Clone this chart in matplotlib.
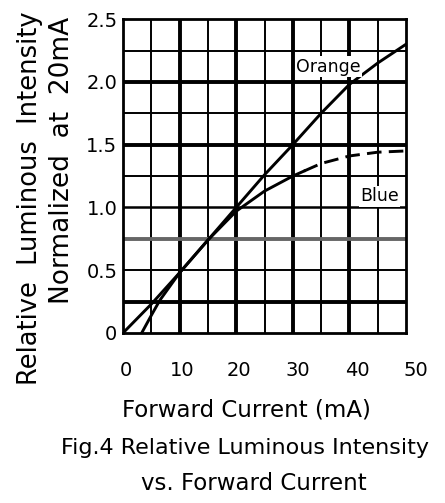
import matplotlib
matplotlib.use("Agg")
import matplotlib.pyplot as plt
import matplotlib.transforms as mtransforms
import numpy as np

# Data
orange_x = [0, 5, 10, 15, 20, 25, 30, 35, 40, 45, 50]
orange_y = [0, 0.23, 0.48, 0.74, 1.0, 1.26, 1.5, 1.75, 1.98, 2.15, 2.30]
blue_solid_x = [3.3, 5, 6.5, 10, 15, 20, 25, 30, 32]
blue_solid_y = [0, 0.14, 0.26, 0.48, 0.74, 0.97, 1.13, 1.25, 1.29]
blue_dash_x = [32, 35, 40, 45, 50]
blue_dash_y = [1.29, 1.35, 1.41, 1.44, 1.45]
xticks = [0, 10, 20, 30, 40, 50]
yticks = [0, 0.5, 1.0, 1.5, 2.0, 2.5]
ytick_labels = ["0", "0.5", "1.0", "1.5", "2.0", "2.5"]

plt.rcParams['font.family'] = ['DejaVu Sans']

fig = plt.figure(figsize=(4.45, 5.03), dpi=100)
ax = fig.add_axes([0.2764, 0.338, 0.636, 0.624])
ax.set_xlim(0, 50)
ax.set_ylim(0, 2.5)

# grid
thick_x = [10, 20, 30, 40]
for xv in np.arange(5, 50, 5):
    lw = 2.8 if xv in thick_x else 1.4
    ax.axvline(xv, color='black', lw=lw, zorder=1)
thick_y = {0.25: 2.8, 1.5: 2.8, 2.0: 2.8, 1.0: 1.8}
for yv in np.arange(0.25, 2.5, 0.25):
    yv = round(yv, 2)
    if yv == 0.75:
        ax.axhline(yv, color='#666666', lw=2.8, zorder=1)
    else:
        ax.axhline(yv, color='black', lw=thick_y.get(yv, 1.4), zorder=1)

for s in ax.spines.values():
    s.set_linewidth(2.0)

ax.plot(orange_x, orange_y, color='black', lw=2.1, zorder=3)
ax.plot(blue_solid_x, blue_solid_y, color='black', lw=2.1, zorder=3)
ax.plot(blue_dash_x, blue_dash_y, color='black', lw=2.1, ls=(0, (5, 2.5)), zorder=3)

ax.text(36.3, 2.12, "Orange", fontsize=12.5, ha='center', va='center',
        bbox=dict(facecolor='white', edgecolor='none', pad=1), zorder=4)
ax.text(45.3, 1.09, "Blue", fontsize=12.5, ha='center', va='center',
        bbox=dict(facecolor='white', edgecolor='none', pad=1), zorder=4)

ax.set_xticks(xticks)
ax.set_xticklabels([str(v) for v in xticks], fontsize=14)
ax.set_yticks(yticks)
ax.set_yticklabels(ytick_labels, fontsize=14)
ax.tick_params(length=0)
ax.tick_params(axis='y', pad=4)
ax.tick_params(axis='x', pad=20)
# reference tick labels sit slightly to the right of their grid lines
shifts = [3, 3, 3, 5, 8, 10]
for lab, dx in zip(ax.get_xticklabels(), shifts):
    lab.set_transform(lab.get_transform() +
                      mtransforms.ScaledTranslation(dx / 100, 0, fig.dpi_scale_trans))

fig.text(246 / 445, 1 - 410 / 503, "Forward Current (mA)",
         fontsize=16.5, ha='center', va='center')
fig.text(245 / 445, 1 - 448 / 503, "Fig.4 Relative Luminous Intensity",
         fontsize=16, ha='center', va='center')
fig.text(254 / 445, 1 - 483 / 503, "vs. Forward Current",
         fontsize=16.5, ha='center', va='center')
fig.text(30 / 445, 1 - 198 / 503, "Relative  Luminous  Intensity",
         fontsize=18.5, ha='center', va='center', rotation=90)
fig.text(62 / 445, 1 - 160 / 503, "Normalized  at  20mA",
         fontsize=19, ha='center', va='center', rotation=90)

fig.savefig("out.png", dpi=100)
